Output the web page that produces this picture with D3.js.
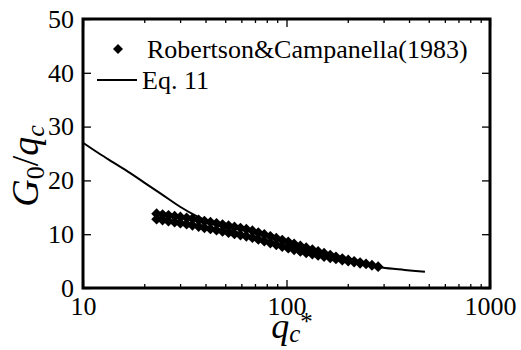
<!DOCTYPE html>
<html>
<head>
<meta charset="utf-8">
<script src="https://cdn.jsdelivr.net/npm/d3@7"></script>
<style>
  body { margin: 0; background: #fff; }
</style>
</head>
<body>
<div id="chart"></div>
<script>
// q_c* values shared by both rows of measured points
const qcStar = [23, 24.6, 26.3, 28.2, 30.1, 32.3, 34.5, 37, 39.5, 42.3, 45.3, 48.5, 51.9, 55.5,
  59.4, 63.5, 68, 72.7, 77.8, 83.3, 89.1, 95.3, 102, 109, 117, 125, 134, 143, 153, 164, 175,
  188, 201, 215, 230, 246, 263, 282];
// G0/qc, upper row of points
const upperRow = [13.8, 13.65, 13.5, 13.35, 13.2, 13.05, 12.88, 12.66, 12.45, 12.24, 12.02,
  11.8, 11.58, 11.36, 11.14, 10.92, 10.65, 10.3, 9.95, 9.6, 9.25, 8.9, 8.55, 8.2, 7.82,
  7.48, 7.12, 6.8, 6.46, 6.12, 5.8, 5.47, 5.22, 4.97, 4.72, 4.47, 4.23, 3.97];
// G0/qc, lower row of points (ends at q_c* = 230)
const lowerRow = [12.8, 12.62, 12.43, 12.24, 12.05, 11.86, 11.66, 11.42, 11.2, 10.97, 10.74,
  10.52, 10.29, 10.06, 9.84, 9.61, 9.36, 9.03, 8.7, 8.36, 8.03, 7.71, 7.4, 7.1, 6.79,
  6.53, 6.28, 6.06, 5.84, 5.6, 5.4, 5.18, 5.0, 4.82, 4.58];

// Eq. 11 curve
const eqX = [10, 12, 14, 17, 20, 24, 30, 36, 45, 60, 80, 100, 140, 198, 294, 380, 479];
const eqY = [27.0, 25.0, 23.4, 21.4, 19.6, 17.6, 15.1, 13.4, 11.8, 10.1, 8.75, 7.8, 6.35, 5.0, 3.8, 3.36, 3.0];

const xMajor = [10, 100, 1000];
const xMinor = [20, 30, 40, 50, 60, 70, 80, 90, 200, 300, 400, 500, 600, 700, 800, 900];
const yTicks = [0, 10, 20, 30, 40, 50];

const W = 521, H = 350;
const plotL = 83, plotR = 490, plotT = 19, plotB = 288;
const serif = '"Liberation Serif", "Times New Roman", serif';

const svg = d3.select('#chart').append('svg')
  .attr('width', W)
  .attr('height', H)
  .style('font-family', serif);

const x = d3.scaleLog().domain([10, 1000]).range([plotL, plotR]);
const y = d3.scaleLinear().domain([0, 50]).range([plotB, plotT]);

// ticks (all pointing inward)
function styleAxis(g) {
  g.attr('font-family', null).attr('font-size', null);
  g.select('.domain').remove();
  g.selectAll('.tick line').attr('stroke', '#000').attr('stroke-width', 1.3);
  g.selectAll('.tick text')
    .attr('fill', '#000')
    .style('font-family', serif)
    .style('font-size', '26px');
}

svg.append('g').attr('transform', `translate(0,${plotB})`)
  .call(d3.axisBottom(x).tickValues(xMinor).tickSize(-4).tickFormat(''))
  .call(styleAxis);
svg.append('g').attr('transform', `translate(0,${plotB})`)
  .call(d3.axisBottom(x).tickValues(xMajor).tickSize(-8).tickPadding(9).tickFormat(d3.format('d')))
  .call(styleAxis);
svg.append('g').attr('transform', `translate(0,${plotT})`)
  .call(d3.axisTop(x).tickValues(xMinor).tickSize(-4).tickFormat(''))
  .call(styleAxis);
svg.append('g').attr('transform', `translate(0,${plotT})`)
  .call(d3.axisTop(x).tickValues(xMajor).tickSize(-8).tickFormat(''))
  .call(styleAxis);
svg.append('g').attr('transform', `translate(${plotL},0)`)
  .call(d3.axisLeft(y).tickValues(yTicks).tickSize(-8).tickPadding(9))
  .call(styleAxis);
svg.append('g').attr('transform', `translate(${plotR},0)`)
  .call(d3.axisRight(y).tickValues(yTicks).tickSize(-8).tickFormat(''))
  .call(styleAxis);

// frame
svg.append('rect')
  .attr('x', plotL).attr('y', plotT)
  .attr('width', plotR - plotL).attr('height', plotB - plotT)
  .attr('fill', 'none').attr('stroke', '#000').attr('stroke-width', 3);

// Eq. 11 line
const line = d3.line()
  .x(d => x(d[0]))
  .y(d => y(d[1]))
  .curve(d3.curveCatmullRom.alpha(0.5));

svg.append('path')
  .datum(eqX.map((v, i) => [v, eqY[i]]))
  .attr('d', line)
  .attr('fill', 'none')
  .attr('stroke', '#000')
  .attr('stroke-width', 2);

// diamonds
const diamond = d3.symbol().type(d3.symbolSquare).size(58);
const pts = qcStar.map((v, i) => [v, upperRow[i]])
  .concat(lowerRow.map((v, i) => [qcStar[i], v]));

svg.append('g').selectAll('path')
  .data(pts)
  .enter()
  .append('path')
  .attr('d', diamond)
  .attr('transform', d => `translate(${x(d[0])},${y(d[1])}) rotate(45)`)
  .attr('fill', '#000');

// legend
svg.append('path')
  .attr('d', d3.symbol().type(d3.symbolSquare).size(50))
  .attr('transform', 'translate(118,49) rotate(45)')
  .attr('fill', '#000');
svg.append('text')
  .attr('x', 147).attr('y', 49).attr('dy', '0.35em')
  .style('font-family', serif)
  .style('font-size', '26px')
  .text('Robertson&Campanella(1983)');
svg.append('line')
  .attr('x1', 97).attr('x2', 137).attr('y1', 80).attr('y2', 80)
  .attr('stroke', '#000').attr('stroke-width', 2);
svg.append('text')
  .attr('x', 142).attr('y', 80).attr('dy', '0.35em')
  .style('font-family', serif)
  .style('font-size', '26px')
  .text('Eq. 11');

// axis titles
const yTitle = svg.append('text')
  .attr('transform', 'translate(38,166) rotate(-90)')
  .attr('text-anchor', 'middle')
  .style('font-family', serif)
  .style('font-size', '38px');
yTitle.append('tspan').style('font-style', 'italic').text('G');
yTitle.append('tspan').attr('dy', 6).style('font-size', '26px').text('0');
yTitle.append('tspan').attr('dy', -6).text('/');
yTitle.append('tspan').style('font-style', 'italic').text('q');
yTitle.append('tspan').attr('dy', 6).style('font-size', '26px').style('font-style', 'italic').text('c');

const xTitle = svg.append('text')
  .attr('x', 292).attr('y', 338)
  .attr('text-anchor', 'middle')
  .style('font-family', serif)
  .style('font-size', '36px');
xTitle.append('tspan').style('font-style', 'italic').text('q');
xTitle.append('tspan').attr('dy', 4).style('font-size', '25px').style('font-style', 'italic').text('c');
xTitle.append('tspan').attr('dy', -12).style('font-size', '25px').text('*');
</script>
</body>
</html>
